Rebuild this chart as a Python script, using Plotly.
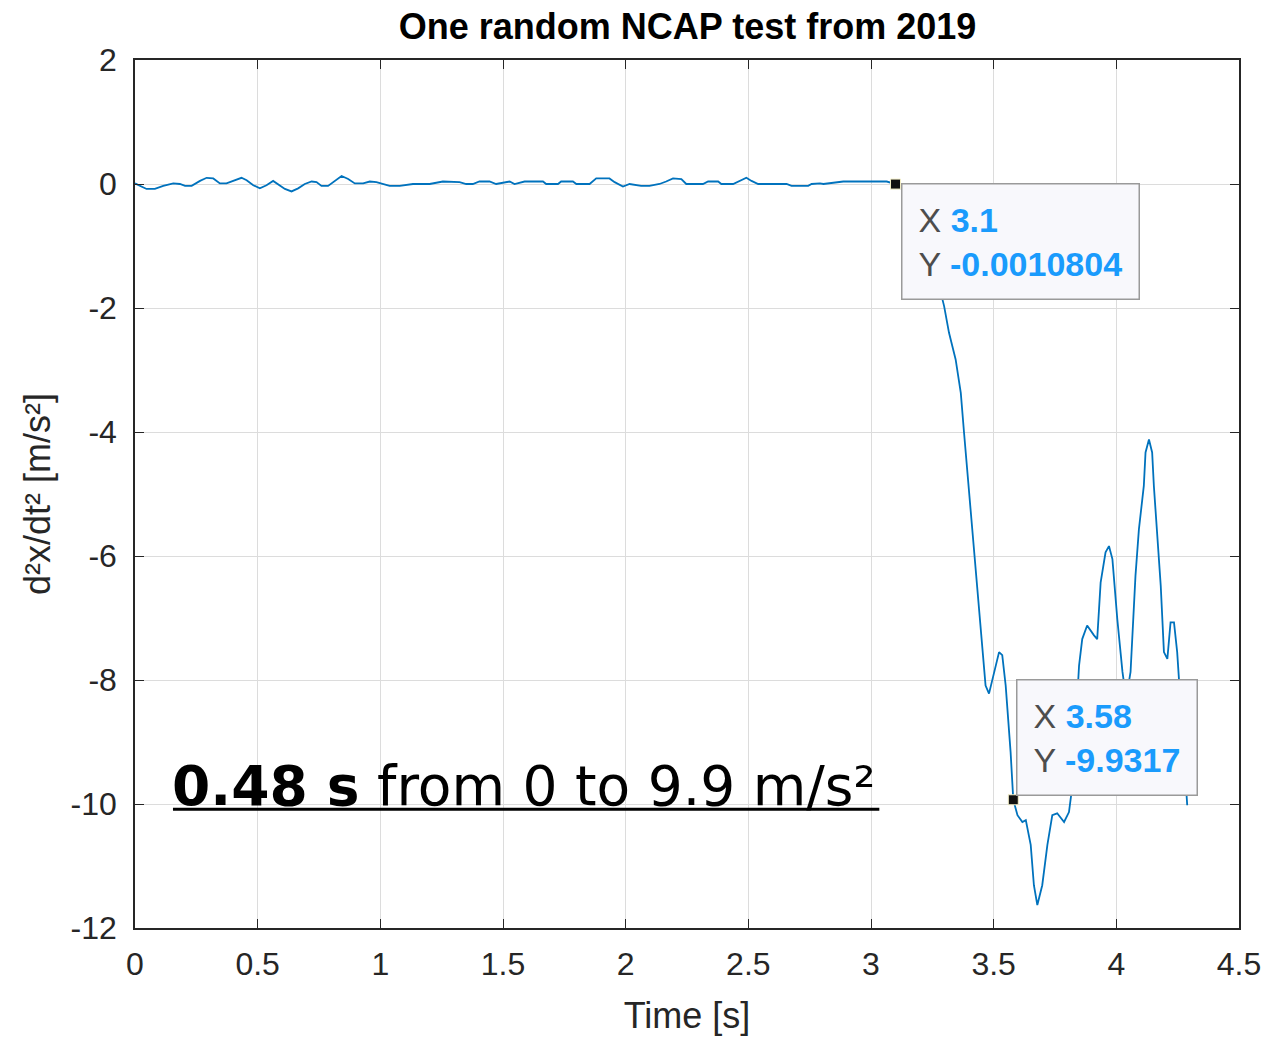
import plotly.graph_objects as go

# ---- data ----
time_s = [0.000, 0.047, 0.081, 0.115, 0.156, 0.183, 0.204, 0.231, 0.265, 0.292,
          0.319, 0.346, 0.373, 0.400, 0.434, 0.455, 0.482, 0.509, 0.536, 0.563,
          0.584, 0.611, 0.638, 0.665, 0.692, 0.720, 0.740, 0.760, 0.787, 0.815,
          0.842, 0.869, 0.896, 0.930, 0.957, 0.984, 1.011, 1.038, 1.079, 1.133,
          1.201, 1.255, 1.323, 1.350, 1.377, 1.404, 1.445, 1.472, 1.527, 1.547,
          1.588, 1.663, 1.676, 1.724, 1.737, 1.785, 1.799, 1.853, 1.880, 1.934,
          1.955, 1.989, 2.016, 2.063, 2.097, 2.138, 2.165, 2.193, 2.227, 2.247,
          2.315, 2.336, 2.377, 2.390, 2.438, 2.458, 2.492, 2.513, 2.540, 2.656,
          2.676, 2.744, 2.758, 2.792, 2.806, 2.887, 3.064, 3.100,
          3.150, 3.200, 3.250, 3.298, 3.318, 3.345, 3.366, 3.379, 3.386, 3.406,
          3.426, 3.447, 3.467, 3.481, 3.502, 3.522, 3.535, 3.549, 3.569, 3.580,
          3.597, 3.617, 3.631, 3.651, 3.664, 3.678, 3.698, 3.719, 3.739, 3.759,
          3.787, 3.807, 3.821, 3.835, 3.848, 3.861, 3.881, 3.909, 3.922, 3.936,
          3.956, 3.970, 3.984, 4.004, 4.025, 4.040, 4.058, 4.078, 4.092, 4.112,
          4.119, 4.133, 4.146, 4.153, 4.167, 4.181, 4.194, 4.208, 4.221, 4.235,
          4.248, 4.265, 4.280, 4.289]
accel = [0.01, -0.08, -0.08, -0.03, 0.01, 0.00, -0.03, -0.03, 0.05, 0.10,
         0.09, 0.01, 0.01, 0.05, 0.10, 0.06, -0.02, -0.07, -0.02, 0.05,
         -0.01, -0.08, -0.12, -0.07, 0.00, 0.04, 0.03, -0.03, -0.03, 0.05,
         0.13, 0.08, 0.01, 0.01, 0.04, 0.03, 0.00, -0.03, -0.03, 0.00,
         0.00, 0.04, 0.03, 0.00, 0.00, 0.04, 0.04, 0.00, 0.04, 0.00,
         0.04, 0.04, 0.00, 0.00, 0.04, 0.04, 0.00, 0.00, 0.09, 0.09,
         0.03, -0.04, 0.00, -0.03, -0.03, 0.00, 0.04, 0.09, 0.08, 0.00,
         0.00, 0.04, 0.04, 0.00, 0.00, 0.04, 0.10, 0.05, 0.00, 0.00,
         -0.03, -0.03, 0.00, 0.01, 0.00, 0.04, 0.04, -0.0010804,
         -0.15, -0.60, -1.20, -1.97, -2.40, -2.83, -3.37, -4.00, -4.33, -5.35,
         -6.21, -7.28, -8.09, -8.22, -7.87, -7.55, -7.60, -8.09, -9.16, -9.9317,
         -10.18, -10.29, -10.26, -10.66, -11.31, -11.63, -11.31, -10.66, -10.18, -10.15,
         -10.29, -10.13, -9.70, -8.80, -7.77, -7.34, -7.12, -7.28, -7.34, -6.43,
         -5.94, -5.84, -6.05, -7.02, -7.87, -8.30, -7.87, -6.32, -5.57, -4.87,
         -4.33, -4.12, -4.33, -4.87, -5.62, -6.48, -7.55, -7.66, -7.07, -7.07,
         -7.55, -8.60, -9.60, -10.02]

tip_x = [3.1, 3.58]
tip_y = [-0.0010804, -9.9317]
tip_x_text = ["3.1", "3.58"]
tip_y_text = ["-0.0010804", "-9.9317"]

x_ticks = [0, 0.5, 1, 1.5, 2, 2.5, 3, 3.5, 4, 4.5]
x_tick_labels = ["0", "0.5", "1", "1.5", "2", "2.5", "3", "3.5", "4", "4.5"]
y_ticks = [2, 0, -2, -4, -6, -8, -10, -12]
y_tick_labels = ["2", "0", "-2", "-4", "-6", "-8", "-10", "-12"]

title_text = "One random NCAP test from 2019"
x_label = "Time [s]"
y_label = "d²x/dt² [m/s²]"
note_bold = "0.48 s"
note_rest = " from 0 to 9.9 m/s²"

AXC = "#262626"
GRID = "#dcdcdc"
LINE = "#0072BD"
TIPBLUE = "#1a9bfc"
FONT = "Liberation Sans, Arial, Helvetica, sans-serif"

L, R, T, B = 135, 33, 60, 111

fig = go.Figure()
fig.add_trace(go.Scatter(x=time_s, y=accel, mode="lines",
                         line=dict(color=LINE, width=1.8), showlegend=False,
                         hoverinfo="skip"))
fig.add_trace(go.Scatter(x=tip_x, y=tip_y, mode="markers",
                         marker=dict(symbol="square", size=10, color="#111111",
                                     line=dict(color="#f5f0c8", width=1)),
                         showlegend=False, hoverinfo="skip"))

# data tips
anchors = [("left", "top", 5, 1), ("left", "bottom", 3, 4)]
for i in range(len(tip_x)):
    xa, ya, xs, ys = anchors[i]
    fig.add_annotation(
        x=tip_x[i], y=tip_y[i], xref="x", yref="y",
        xanchor=xa, yanchor=ya, xshift=xs, yshift=ys, showarrow=False,
        align="left",
        text=(f"<span style='color:#4d4d4d'>X</span> <b style='color:{TIPBLUE}'>{tip_x_text[i]}</b><br>"
              f"<span style='color:#4d4d4d'>Y</span> <b style='color:{TIPBLUE}'>{tip_y_text[i]}</b>"),
        font=dict(family=FONT, size=34),
        bgcolor="#f8f8fc", bordercolor="#9a9a9a", borderwidth=1.5, borderpad=16,
    )

# big note
fig.add_annotation(
    x=(170 - 135) / 1105, y=(930 - 788) / 870, xref="paper", yref="paper",
    xanchor="left", yanchor="middle", showarrow=False,
    text=f"<b>{note_bold}</b>{note_rest}",
    font=dict(family="DejaVu Sans, Verdana, sans-serif", size=55, color="black"),
)
fig.add_shape(type="line", xref="paper", yref="paper",
              x0=(173 - 135) / 1105, x1=(880 - 135) / 1105,
              y0=(930 - 811) / 870, y1=(930 - 811) / 870,
              line=dict(color="black", width=3))

axis_common = dict(
    showgrid=True, gridcolor=GRID, gridwidth=1,
    showline=True, linecolor=AXC, linewidth=1.5, mirror="allticks",
    ticks="inside", ticklen=9, tickcolor=AXC, tickwidth=1.2,
    tickfont=dict(family=FONT, size=32, color=AXC),
    zeroline=False,
)
fig.update_xaxes(range=[0, 4.5], tickvals=x_ticks, ticktext=x_tick_labels,
                 title=dict(text=x_label, font=dict(family=FONT, size=36, color=AXC), standoff=22),
                 ticklabelstandoff=7, **axis_common)
fig.update_yaxes(range=[-12, 2], tickvals=y_ticks, ticktext=y_tick_labels,
                 title=dict(text=y_label, font=dict(family=FONT, size=36, color=AXC), standoff=9),
                 ticklabelstandoff=10, **axis_common)

fig.update_layout(
    width=1273, height=1041,
    margin=dict(l=L, r=R, t=T, b=B),
    paper_bgcolor="white", plot_bgcolor="white",
    title=dict(text=f"<b>{title_text}</b>", x=(135 + 1240) / 2 / 1273, xanchor="center",
               y=1 - 26 / 1041, yanchor="middle", yref="container",
               font=dict(family=FONT, size=36, color="black")),
)

fig.write_html("out.html", config={"displayModeBar": False},
               post_script="document.body.style.margin='0px';")
